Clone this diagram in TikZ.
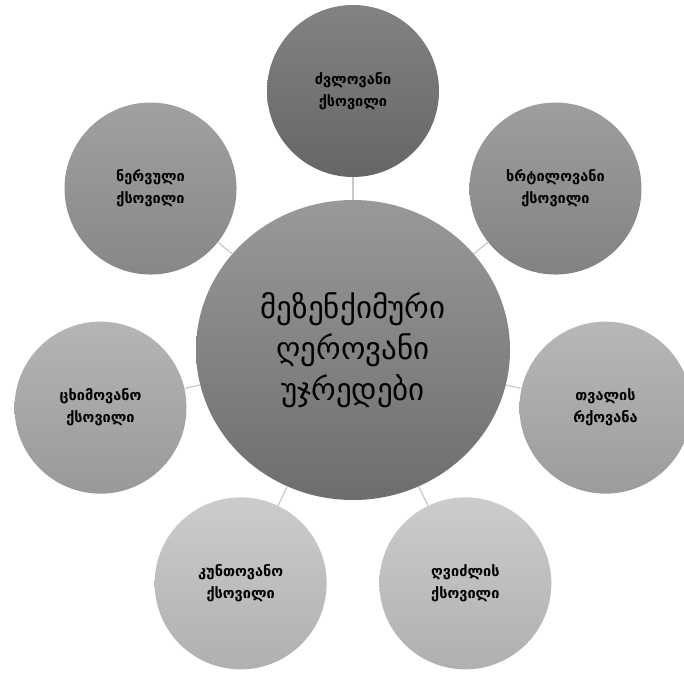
\documentclass[tikz,border=0pt]{standalone}
\usepackage{fontspec}
\setmainfont{DejaVu Sans}
\usetikzlibrary{shapes.geometric}

\definecolor{linegray}{HTML}{C8C8C8}

\begin{document}
\begin{tikzpicture}[
  x=1pt, y=1pt,
  hub/.style={
    ellipse,
    align=center,
    minimum width=314pt,
    minimum height=300pt,
    inner sep=0pt,
    top color=black!40,
    bottom color=black!57,
    font=\fontsize{31}{41}\selectfont
  },
  leaf/.style={
    circle,
    align=center,
    minimum size=172pt,
    inner sep=0pt,
    font=\bfseries\fontsize{14.5}{22}\selectfont
  },
  link/.style={draw=linegray, line width=1.2pt}
]
\useasboundingbox (0,0) rectangle (684,673);

% Central node
\node[hub] (hub) at (353,323) {მეზენქიმური\\ღეროვანი\\უჯრედები};

% Tissue types around it
\node[leaf,top color=black!49,bottom color=black!60] (bone) at ([shift={(90:259)}]hub.center) {ძვლოვანი\\ქსოვილი};

\node[leaf,top color=black!38,bottom color=black!49] (cartilage) at ([shift={(38.57:259)}]hub.center) {ხრტილოვანი\\ქსოვილი};

\node[leaf,top color=black!28,bottom color=black!39] (cornea) at ([shift={(-12.86:259)}]hub.center) {თვალის\\რქოვანა};

\node[leaf,top color=black!20,bottom color=black!31] (liver) at ([shift={(-64.29:259)}]hub.center) {ღვიძლის\\ქსოვილი};

\node[leaf,top color=black!20,bottom color=black!31] (muscle) at ([shift={(-115.71:259)}]hub.center) {კუნთოვანო\\ქსოვილი};

\node[leaf,top color=black!29,bottom color=black!40] (fat) at ([shift={(-167.14:259)}]hub.center) {ცხიმოვანო\\ქსოვილი};

\node[leaf,top color=black!37,bottom color=black!47] (nerve) at ([shift={(141.43:259)}]hub.center) {ნერვული\\ქსოვილი};

% Links from the centre
\path[link] (hub) -- (bone);
\path[link] (hub) -- (cartilage);
\path[link] (hub) -- (cornea);
\path[link] (hub) -- (liver);
\path[link] (hub) -- (muscle);
\path[link] (hub) -- (fat);
\path[link] (hub) -- (nerve);

\end{tikzpicture}
\end{document}
